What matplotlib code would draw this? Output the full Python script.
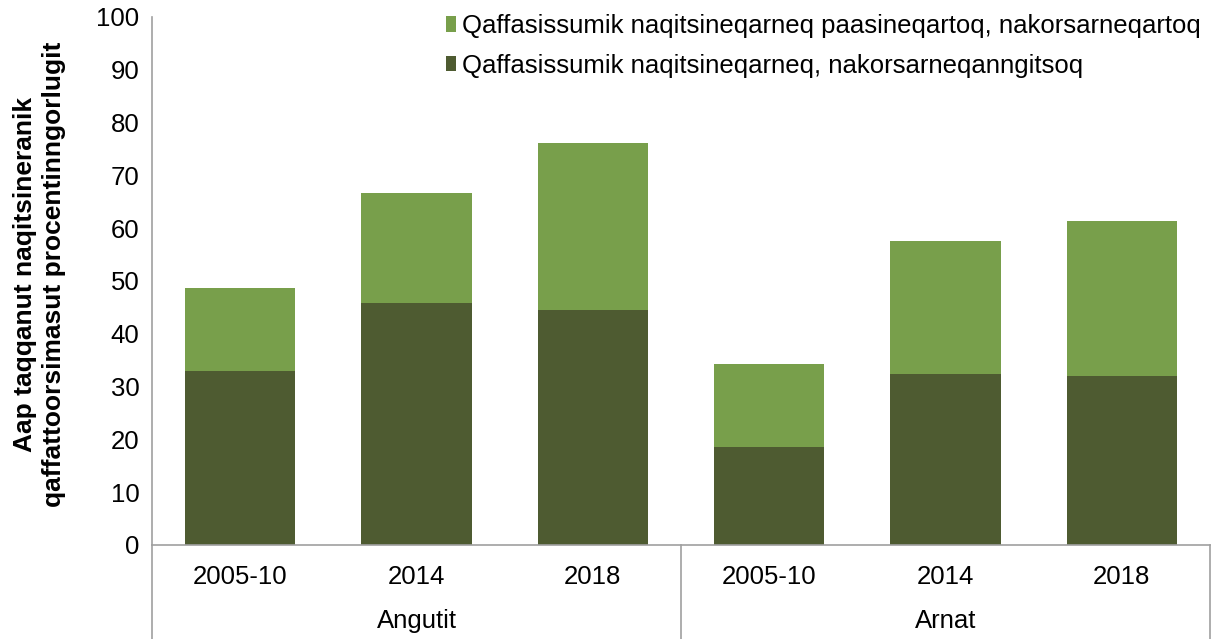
import numpy as np
import matplotlib.pyplot as plt

plt.rcParams['font.family'] = ['Liberation Sans', 'DejaVu Sans']

groups = ['Angutit', 'Arnat']
periods = ['2005-10', '2014', '2018']
dark_vals = [33.0, 45.8, 44.5, 18.6, 32.4, 32.0]
light_vals = [15.7, 20.9, 31.6, 15.7, 25.2, 29.4]
series_names = ['Qaffasissumik naqitsineqarneq paasineqartoq, nakorsarneqartoq',
                'Qaffasissumik naqitsineqarneq, nakorsarneqanngitsoq']
ylabel = 'Aap taqqanut naqitsineranik\nqaffattoorsimasut procentinngorlugit'

light_col = '#789F4B'
dark_col = '#4E5B31'
axis_col = '#A0A0A0'
fs = 18.5

fig = plt.figure(figsize=(12.19, 6.39), dpi=100)
ax = fig.add_axes([152 / 1219, 94 / 639, 1058 / 1219, 528 / 639])

x = np.arange(len(dark_vals))
b_dark = ax.bar(x, dark_vals, width=0.625, color=dark_col, zorder=2)
b_light = ax.bar(x, light_vals, bottom=dark_vals, width=0.625, color=light_col,
                 zorder=2)

ax.set_xlim(-0.5, len(dark_vals) - 0.5)
ax.set_ylim(0, 100)
ax.set_yticks(range(0, 101, 10))
ax.tick_params(axis='y', length=0, pad=9, labelsize=fs)
ax.set_xticks([])

for s in ['top', 'right']:
    ax.spines[s].set_visible(False)
for s in ['left', 'bottom']:
    ax.spines[s].set_color(axis_col)
    ax.spines[s].set_linewidth(1.2)

ax.set_ylabel(ylabel, fontsize=19, fontweight='bold', linespacing=1.3)
ax.yaxis.set_label_coords(-0.081, 0.512)

# category and group labels
trans = ax.get_xaxis_transform()
labels = periods * len(groups)
for i, lab in enumerate(labels):
    ax.text(i, -0.061, lab, transform=trans, ha='center', va='center',
            fontsize=fs)
for g, name in enumerate(groups):
    ax.text(g * 3 + 1, -0.144, name, transform=trans, ha='center', va='center',
            fontsize=fs)

# group separators
for xs in [-0.5, 2.5, 5.5]:
    ax.plot([xs, xs], [0, -0.2], transform=trans, color=axis_col, lw=1.2,
            clip_on=False)

leg = fig.legend([b_light, b_dark], series_names, loc='upper left',
                 bbox_to_anchor=(432 / 1219, 1.0), frameon=False,
                 fontsize=fs, handlelength=0.4, handleheight=0.55,
                 handletextpad=0.2, labelspacing=0.6, borderaxespad=0.15)

fig.savefig('out.png', dpi=100)
